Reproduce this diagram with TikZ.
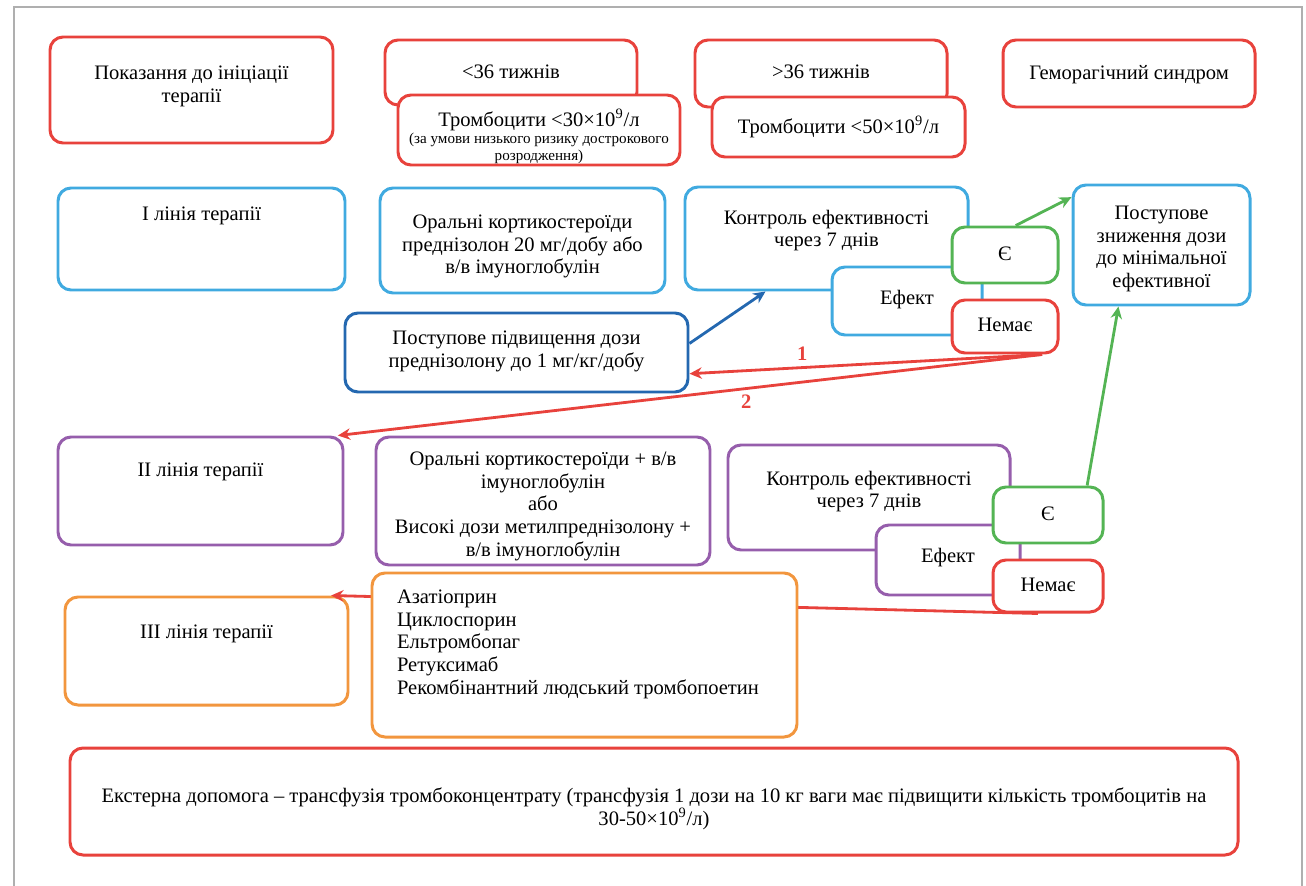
\documentclass[tikz,border=0pt]{standalone}
\usepackage{fontspec}
\setmainfont{Liberation Serif}
\usetikzlibrary{arrows.meta}
\definecolor{rouge}{RGB}{232,66,60}
\definecolor{bleu}{RGB}{64,170,224}
\definecolor{bleufonce}{RGB}{36,104,176}
\definecolor{violet}{RGB}{150,94,172}
\definecolor{vert}{RGB}{84,180,84}
\definecolor{orange}{RGB}{242,150,62}
\definecolor{cadre}{RGB}{175,175,175}
\newdimen\pxu \pxu=0.02cm
% box text: width, height, top gap, text
\newcommand{\boxtxt}[4]{\parbox[c][#2\pxu][t]{#1\pxu}{\centering\vspace*{\dimexpr#3\pxu+3\pxu}#4\par}}
\begin{document}
\begin{tikzpicture}[x=0.02cm,y=-0.02cm]
\tikzset{bx/.style={draw=#1,line width=1.7pt,rounded corners=2.6mm,fill=white,inner sep=0pt,font=\fontsize{11.7}{12.9}\selectfont},
	ar/.style={-{Stealth[length=7pt,width=6.5pt]},line width=1.6pt,draw=#1},
	num/.style={text=rouge,font=\fontsize{11.7}{12}\selectfont\bfseries,inner sep=3pt}}
\useasboundingbox(0,0)rectangle(1306,886);
\draw[cadre,line width=0.6pt](0,886)++(14,0)--(14,7)--(1302,7)--(1302,886);
%% first row
\node[bx=rouge](ind) at (191.5,90){\boxtxt{283}{106}{26}{Показання до ініціації\\терапії}};
\node[bx=rouge](lt36) at (511,72.5){\boxtxt{252}{65}{22}{<36 тижнів}};
\node[bx=rouge](plt30) at (539,130){\boxtxt{282}{70}{11}{Тромбоцити <30×10\textsuperscript{9}/л\par{\fontsize{8.6}{9.8}\selectfont (за умови низького ризику дострокового\\розродження)\par}}};
\node[bx=rouge](gt36) at (821,73.5){\boxtxt{252}{67}{22}{>36 тижнів}};
\node[bx=rouge](plt50) at (838.5,127){\boxtxt{253}{60}{16}{Тромбоцити <50×10\textsuperscript{9}/л}};
\node[bx=rouge](hem) at (1129,73.5){\boxtxt{252}{67}{22}{Геморагічний синдром}};
%% I line
\node[bx=bleu](line1) at (201.5,239){\boxtxt{287}{102}{16}{I лінія терапії}};
\node[bx=bleu](oral1) at (522.5,240.5){\boxtxt{285}{105}{24}{Оральні кортикостероїди\\преднізолон 20 мг/добу або\\в/в імуноглобулін}};
\node[bx=bleu](ctl1) at (826.5,238.5){\boxtxt{283}{103}{20}{Контроль ефективності\\через 7 днів}};
\node[bx=bleu](eff1) at (907,301){\boxtxt{150}{68}{20}{Ефект}};
\node[bx=vert](yes1) at (1005,255){\boxtxt{106}{56}{17}{Є}};
\node[bx=rouge](no1) at (1005,326.5){\boxtxt{106}{53}{15}{Немає}};
\node[bx=bleu](dec) at (1161.5,245){\boxtxt{177}{120}{18}{Поступове\\зниження дози\\до мінімальної\\ефективної}};
\node[bx=bleufonce](inc) at (516.5,352.5){\boxtxt{343}{79}{15}{Поступове підвищення дози\\преднізолону до 1 мг/кг/добу}};
%% II line
\node[bx=violet](line2) at (200.5,491){\boxtxt{285}{108}{23}{II лінія терапії}};
\node[bx=violet](oral2) at (543,501){\boxtxt{334}{128}{12}{Оральні кортикостероїди + в/в\\імуноглобулін\\або\\Високі дози метилпреднізолону +\\в/в імуноглобулін}};
\node[bx=violet](ctl2) at (869,497.5){\boxtxt{282}{105}{23}{Контроль ефективності\\через 7 днів}};
\node[bx=violet](eff2) at (948,560){\boxtxt{144}{70}{20}{Ефект}};
\node[bx=vert](yes2) at (1048,515){\boxtxt{110}{56}{17}{Є}};
\node[bx=rouge](no2) at (1048,586){\boxtxt{110}{52}{15}{Немає}};
%% III line
\node[bx=orange](line3) at (206.5,651){\boxtxt{283}{108}{25}{III лінія терапії}};
\draw[ar=rouge](no2.-110)--(line3.24.6);
\node[bx=orange](drugs) at (584.5,655){\parbox[c][164\pxu][t]{425\pxu}{\vspace*{17\pxu}\raggedright\leftskip=25\pxu Азатіоприн\\Циклоспорин\\Ельтромбопаг\\Ретуксимаб\\Рекомбінантний людський тромбопоетин\par}};
%% external help
\node[bx=rouge](ext) at (654,801.5){\boxtxt{1168}{107}{37}{Екстерна допомога – трансфузія тромбоконцентрату (трансфузія 1 дози на 10 кг ваги має підвищити кількість тромбоцитів на\\30-50×10\textsuperscript{9}/л)}};
%% arrows
\foreach \x/\y/\c in {inc.3/ctl1.221/bleufonce,yes1.70/dec.152/vert,yes2.37/dec.235/vert}
\draw[ar=\c](\x)--(\y);
\draw[ar=rouge](no1.-37)--(inc.-7)node[pos=0.68,above,num](n1){1};
\draw[ar=rouge](no1.-37)--(line2.22.6)node[pos=0.42,below,num](n2){2};
\end{tikzpicture}
\end{document}
